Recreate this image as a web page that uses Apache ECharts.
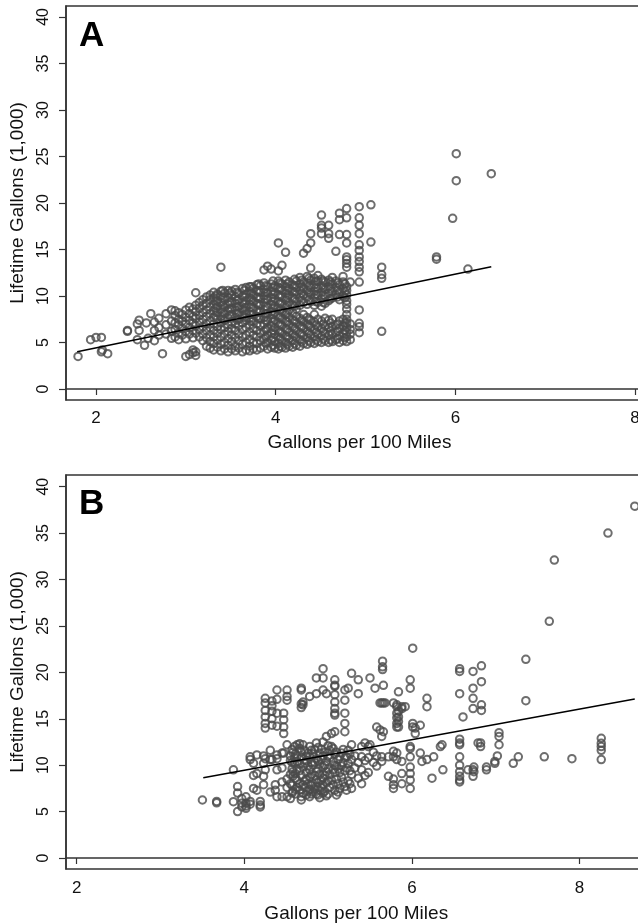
<!DOCTYPE html>
<html>
<head>
<meta charset="utf-8">
<script src="https://cdn.jsdelivr.net/npm/echarts@6/dist/echarts.min.js"></script>
<style>
  html, body { margin: 0; padding: 0; background: #fff; }
  #main { width: 638px; height: 923px; }
</style>
</head>
<body>
<div id="main"></div>
<script>
// Panel A: gallons per 100 miles (x) -> lifetime gallons (1,000) read column by column
const colsA = [
  [1.80, [3.5]],
  [1.94, [5.3]], [2.00, [5.55]], [2.06, [5.55, 4.0]], [2.07, [4.2]], [2.13, [3.8]],
  [2.35, [6.2, 6.3]],
  [2.46, [5.3, 7.0]], [2.48, [7.4, 6.3]], [2.54, [4.7]], [2.56, [7.1]], [2.58, [5.45]],
  [2.61, [8.1]], [2.65, [7.2, 6.3, 5.2]],
  [2.70, [5.8, 6.6, 7.6]], [2.74, [3.8]], [2.78, [8.1, 6.9, 5.9]], [2.84, [8.5, 6.2, 5.45, 7.3]],
  [2.88, [5.6, 6.4, 7.1, 7.9, 8.4]],
  [2.92, [5.3, 6.0, 6.9, 7.5, 8.2]],
  [2.96, [5.8, 6.5, 7.3, 8.0]],
  [3.00, [3.5, 5.4, 6.2, 7.0, 7.7, 8.5]],
  [3.04, [3.7, 5.9, 6.6, 7.4, 8.1, 8.8]],
  [3.08, [3.9, 4.2, 5.5, 6.3, 7.1, 7.8, 8.6]],
  [3.11, [3.6, 4.0, 6.0, 6.8, 7.6, 8.3, 9.0, 10.35]],
  [3.15, [5.6, 6.4, 7.2, 7.9, 8.7, 9.3]],
  [3.19, [5.2, 5.9, 6.7, 7.5, 8.2, 9.0, 9.6]],
  [3.23, [4.6, 5.5, 6.3, 7.0, 7.8, 8.5, 9.2, 9.9]],
  [3.27, [4.4, 5.1, 5.8, 6.6, 7.3, 8.1, 8.8, 9.6, 10.1]],
  [3.31, [4.2, 4.9, 5.6, 6.3, 7.0, 7.7, 8.4, 9.1, 9.8, 10.4]],
  [3.33, [7.9, 8.7, 9.4, 10.0]],
  [3.35, [4.5, 5.3, 6.0, 6.7, 7.5, 8.2, 8.9, 9.5, 10.2]],
  [3.39, [4.1, 4.8, 5.6, 6.4, 7.1, 7.8, 8.6, 9.3, 10.0, 10.5, 13.1]],
  [3.41, [7.5, 8.3, 9.0, 9.8, 10.6]],
  [3.43, [4.3, 5.0, 5.9, 6.6, 7.4, 8.1, 8.8, 9.6, 10.3]],
  [3.47, [4.0, 4.7, 5.4, 6.2, 6.9, 7.6, 8.4, 9.1, 9.8, 10.6]],
  [3.49, [7.9, 8.6, 9.3, 10.3]],
  [3.51, [4.3, 5.1, 5.8, 6.5, 7.2, 8.0, 8.7, 9.4, 10.1, 10.5]],
  [3.55, [4.1, 4.6, 5.5, 6.3, 7.0, 7.7, 8.5, 9.2, 9.9, 10.7]],
  [3.57, [7.4, 8.1, 8.8, 9.5, 10.4]],
  [3.59, [4.4, 5.2, 5.9, 6.8, 7.5, 8.2, 8.9, 9.6, 10.3]],
  [3.63, [4.0, 4.8, 5.6, 6.4, 7.1, 7.9, 8.6, 9.3, 10.0, 10.8]],
  [3.65, [7.7, 8.4, 9.1, 9.9, 10.6]],
  [3.67, [4.2, 5.0, 5.8, 6.6, 7.4, 8.1, 8.8, 9.5, 10.2, 10.9]],
  [3.71, [4.1, 4.6, 5.3, 6.1, 6.9, 7.6, 8.3, 9.1, 9.8, 10.5, 11.0]],
  [3.73, [7.3, 8.0, 8.8, 9.6, 10.3, 11.0]],
  [3.75, [4.3, 5.0, 5.8, 6.5, 7.3, 8.0, 8.7, 9.4, 10.1, 10.8]],
  [3.79, [4.2, 4.9, 5.6, 6.3, 7.0, 7.8, 8.5, 9.2, 9.9, 10.6, 11.2]],
  [3.81, [7.6, 8.3, 9.1, 9.8, 10.5, 11.3]],
  [3.83, [4.4, 5.2, 6.0, 6.8, 7.5, 8.3, 9.0, 9.7, 10.4, 11.1]],
  [3.87, [4.6, 5.4, 6.2, 7.0, 7.7, 8.5, 9.3, 10.0, 10.7, 11.4, 12.8]],
  [3.89, [4.9, 5.6, 6.4, 7.4, 8.1, 8.9, 9.7, 10.4, 11.1]],
  [3.91, [4.3, 5.0, 5.8, 6.5, 7.3, 8.1, 8.8, 9.6, 10.3, 11.0, 13.2]],
  [3.95, [4.5, 5.3, 6.0, 6.8, 7.6, 8.3, 9.1, 9.8, 10.5, 11.3, 12.9]],
  [3.97, [4.7, 5.5, 6.3, 7.2, 8.0, 8.7, 9.4, 10.2, 10.9, 11.6]],
  [3.99, [4.4, 5.1, 5.9, 6.6, 7.4, 8.2, 8.9, 9.7, 10.4, 11.1]],
  [4.03, [4.3, 4.9, 5.6, 6.3, 7.1, 7.9, 8.7, 9.4, 10.1, 10.9, 11.6, 12.7, 15.7]],
  [4.05, [4.6, 5.4, 6.1, 6.9, 7.7, 8.5, 9.2, 10.0, 10.8, 11.4]],
  [4.07, [4.5, 5.2, 6.0, 6.8, 7.5, 8.3, 9.1, 9.9, 10.6, 11.3, 13.3]],
  [4.11, [4.4, 5.0, 5.7, 6.5, 7.3, 8.0, 8.8, 9.6, 10.3, 11.0, 11.7, 14.7]],
  [4.13, [4.8, 5.6, 6.4, 7.2, 8.2, 9.0, 9.8, 10.6, 11.3]],
  [4.15, [4.6, 5.4, 6.1, 6.9, 7.7, 8.5, 9.3, 10.1, 10.8, 11.5]],
  [4.19, [4.5, 5.2, 5.9, 6.7, 7.4, 8.2, 9.0, 9.8, 10.5, 11.2]],
  [4.21, [4.9, 5.7, 6.5, 7.3, 8.9, 9.7, 10.4, 11.1, 11.8]],
  [4.23, [4.7, 5.5, 6.3, 7.1, 7.8, 8.6, 9.4, 10.2, 10.9, 11.6]],
  [4.27, [4.6, 5.3, 6.0, 6.8, 7.6, 9.0, 9.8, 10.6, 11.3, 12.0]],
  [4.29, [5.1, 5.9, 6.7, 7.4, 9.5, 10.3, 11.0, 11.7]],
  [4.31, [4.9, 5.7, 6.5, 7.2, 8.0, 9.3, 10.1, 10.8, 11.5, 14.6]],
  [4.35, [4.8, 5.5, 6.2, 7.0, 7.7, 9.1, 9.9, 10.6, 11.4, 12.1, 15.1]],
  [4.37, [5.2, 6.0, 6.8, 7.5, 9.6, 10.4, 11.1, 11.9]],
  [4.39, [5.0, 5.8, 6.6, 7.4, 9.4, 10.2, 10.9, 11.7, 13.0, 15.7, 16.7]],
  [4.43, [4.9, 5.6, 6.4, 7.2, 8.0, 9.0, 9.8, 10.5, 11.2, 11.9]],
  [4.45, [5.3, 6.1, 6.9, 9.4, 10.2, 10.9, 11.6]],
  [4.47, [5.1, 5.9, 6.7, 7.5, 9.3, 10.1, 10.8, 11.6, 12.2]],
  [4.51, [5.0, 5.7, 6.5, 7.3, 8.9, 9.7, 10.4, 11.1, 11.8, 16.7, 17.3, 17.6, 18.7]],
  [4.53, [5.4, 6.2, 7.0, 9.3, 10.1, 10.9, 11.6]],
  [4.55, [5.2, 6.0, 6.8, 7.6, 9.2, 10.0, 10.7, 11.5]],
  [4.59, [5.0, 5.8, 6.6, 7.4, 9.5, 10.3, 11.0, 11.7, 16.2, 16.7, 17.6]],
  [4.61, [5.3, 6.2, 7.1, 9.7, 10.8, 11.5]],
  [4.63, [5.1, 5.9, 6.7, 7.5, 9.8, 10.5, 11.3, 12.0]],
  [4.67, [5.3, 6.1, 6.9, 10.1, 10.9, 11.6, 14.8]],
  [4.69, [5.4, 6.2, 7.0, 9.9, 10.6, 11.4]],
  [4.71, [5.0, 5.7, 6.5, 7.3, 9.6, 10.4, 11.2, 16.6, 18.2, 18.9]],
  [4.75, [5.2, 6.0, 6.8, 7.5, 10.0, 10.8, 11.5, 12.1]],
  [4.77, [5.5, 6.3, 7.1, 9.8, 10.5, 11.3]],
  [4.79, [5.1, 5.6, 6.1, 6.6, 7.1, 7.5, 8.0, 8.6, 9.1, 9.5, 10.1, 10.6, 11.0, 13.1, 13.5, 13.9, 14.2, 15.7, 16.6, 18.4, 19.4]],
  [4.83, [5.3, 5.9, 6.4, 7.0, 11.5]],
  [4.93, [6.05, 6.7, 7.06, 8.5, 11.5, 12.6, 13.1, 13.7, 14.2, 14.9, 15.5, 16.7, 17.6, 18.4, 19.6]],
  [5.06, [15.8, 19.8]],
  [5.18, [6.2, 11.9, 12.3, 13.1]],
  [5.79, [13.95, 14.2]],
  [5.97, [18.35]],
  [6.01, [22.4, 25.3]],
  [6.14, [12.9]],
  [6.40, [23.15]]
];
const fitA = [[1.79, 4.0], [6.40, 13.15]];

// Panel B
const colsB = [
  [3.50, [6.25]],
  [3.67, [6.1, 5.95]],
  [3.87, [6.07, 9.5]],
  [3.92, [7.7, 5.0, 7.0]],
  [3.97, [5.5, 5.9, 6.4]],
  [4.02, [5.9, 6.6, 5.35, 5.6]],
  [4.07, [6.1, 10.9, 10.6, 5.8]],
  [4.11, [8.9, 10.2, 7.5]],
  [4.15, [9.1, 11.1, 7.3]],
  [4.19, [5.7, 5.5, 6.1]],
  [4.23, [7.9, 8.8, 10.2, 11.0]],
  [4.25, [14.0, 14.5, 15.2, 15.9, 16.7, 17.2, 10.7, 9.5]],
  [4.31, [10.6, 11.6, 7.1]],
  [4.33, [14.3, 15.0, 15.8, 16.4, 16.9, 10.6]],
  [4.37, [7.9, 7.3]],
  [4.39, [18.1, 17.1, 15.6, 14.2, 6.6, 11.1, 10.7, 9.5]],
  [4.45, [8.2, 6.6, 11.3, 9.7]],
  [4.47, [15.6, 14.9, 14.1, 13.4, 11.3]],
  [4.51, [6.6, 18.1, 17.4, 17.0, 12.2, 8.5, 7.6]],
  [4.55, [6.4, 8.0, 9.0, 10.5, 11.0]],
  [4.57, [7.0, 7.8, 9.6, 10.3, 11.7]],
  [4.58, [9.3, 8.8, 7.2, 11.4]],
  [4.60, [12.0, 10.8, 10.2]],
  [4.61, [6.9, 7.4, 8.6, 9.1, 11.2]],
  [4.63, [12.2, 11.0, 10.4, 9.6, 8.4, 7.6]],
  [4.66, [7.3, 8.0, 9.4, 10.1, 11.8, 12.3]],
  [4.68, [18.3, 18.1, 16.6, 16.2, 6.6, 6.25, 8.9, 10.8, 11.4]],
  [4.70, [12.2, 16.8, 16.5, 9.8, 7.9, 7.0]],
  [4.72, [7.6, 8.3, 10.2, 11.6]],
  [4.74, [11.0, 10.5, 9.2, 8.5, 6.8]],
  [4.76, [7.2, 8.0, 9.9, 11.3]],
  [4.78, [17.4, 12.0, 10.9, 9.5, 8.7, 7.4, 6.6]],
  [4.80, [6.9, 7.8, 9.0, 10.3, 11.6]],
  [4.82, [11.2, 10.0, 8.0, 7.1]],
  [4.84, [7.4, 8.9, 10.3, 11.7]],
  [4.86, [19.4, 17.7, 12.4, 10.7, 9.3, 8.4, 7.7, 6.9]],
  [4.88, [6.8, 8.1, 9.6, 10.5, 11.9]],
  [4.90, [11.3, 10.1, 9.0, 7.3, 6.5]],
  [4.92, [7.6, 8.4, 10.6, 11.7]],
  [4.94, [20.4, 19.4, 18.1, 12.5, 11.0, 9.8, 8.6, 7.9, 7.0]],
  [4.96, [7.2, 8.9, 10.0, 11.4]],
  [4.98, [17.7, 13.1, 10.4, 9.3, 8.1, 6.7]],
  [5.00, [6.9, 8.3, 9.6, 11.0, 12.1]],
  [5.02, [11.6, 10.8, 9.0, 7.6]],
  [5.04, [13.4, 12.0, 8.4]],
  [5.06, [7.9, 9.5, 10.4, 11.8]],
  [5.08, [19.2, 18.6, 18.5, 17.6, 16.8, 16.1, 15.6, 15.4, 13.6, 11.2, 10.0, 9.2, 7.3]],
  [5.10, [6.8, 8.5, 9.9, 11.4]],
  [5.12, [10.6, 9.6, 8.0, 7.1]],
  [5.14, [7.5, 9.2, 10.9]],
  [5.16, [11.3, 9.9, 8.7]],
  [5.18, [8.2, 10.3, 11.7]],
  [5.20, [18.1, 17.0, 15.6, 14.5, 13.6, 10.8, 9.4, 7.7]],
  [5.22, [7.3, 9.7, 10.9]],
  [5.24, [18.3, 11.6, 10.2, 8.3]],
  [5.26, [8.0, 9.4, 11.2]],
  [5.28, [19.9, 12.2, 10.6, 9.0, 7.5]],
  [5.32, [11.0, 9.7]],
  [5.36, [19.2, 17.7, 10.3, 8.6]],
  [5.40, [12.0, 10.9, 9.5, 8.0]],
  [5.44, [12.4, 10.5, 8.9]],
  [5.48, [12.0, 10.8, 9.2]],
  [5.50, [19.4, 12.2]],
  [5.54, [11.4, 10.3]],
  [5.56, [18.3]],
  [5.58, [14.1, 11.0, 9.9]],
  [5.62, [16.7, 13.8]],
  [5.64, [16.7, 13.1, 10.9, 10.4]],
  [5.65, [21.2, 20.6, 20.3]],
  [5.66, [18.6, 13.6, 16.7]],
  [5.68, [16.7]],
  [5.72, [10.9, 8.8]],
  [5.78, [16.7, 11.5, 10.9, 8.5, 7.9, 7.5]],
  [5.82, [16.5, 16.3, 15.6, 15.1, 14.5, 14.1, 11.3, 10.6]],
  [5.84, [17.9, 15.8, 15.2, 14.7, 14.1]],
  [5.88, [16.3, 16.1, 10.4, 9.1, 8.0]],
  [5.92, [16.3]],
  [5.98, [18.3, 19.2, 12.0, 11.8, 10.9, 9.8, 9.1, 8.4, 7.5]],
  [6.01, [22.6, 14.5, 14.1]],
  [6.04, [13.4, 14.0]],
  [6.10, [11.3, 14.3]],
  [6.12, [10.4]],
  [6.18, [17.2, 16.3, 10.6]],
  [6.24, [8.6]],
  [6.26, [10.9]],
  [6.34, [12.0]],
  [6.36, [12.2]],
  [6.37, [9.5]],
  [6.57, [20.4, 20.1, 17.7, 12.8, 12.4, 12.2, 10.9, 10.0, 9.3, 8.8, 8.4, 8.2]],
  [6.61, [15.2]],
  [6.67, [9.5]],
  [6.73, [20.1, 18.3, 17.2, 16.1, 9.5, 8.8]],
  [6.74, [9.8, 9.3]],
  [6.79, [12.4]],
  [6.82, [12.4, 12.0]],
  [6.83, [20.7, 19.0, 16.5, 15.9]],
  [6.89, [9.8, 9.5]],
  [6.99, [10.2, 10.4]],
  [7.02, [11.0]],
  [7.04, [13.5, 13.1, 12.2]],
  [7.21, [10.2]],
  [7.27, [10.9]],
  [7.36, [21.4, 16.95]],
  [7.58, [10.9]],
  [7.64, [25.5]],
  [7.70, [32.1]],
  [7.91, [10.7]],
  [8.26, [12.9, 12.35, 12.0, 11.6, 10.6]],
  [8.34, [35.0]],
  [8.66, [37.9]]
];
const fitB = [[3.51, 8.65], [8.66, 17.13]];

const xTicks = [2, 4, 6, 8];
const yTicks = [0, 5, 10, 15, 20, 25, 30, 35, 40];

const flatten = (cols) => {
  const out = [];
  cols.forEach(([x, ys]) => ys.forEach(y => out.push([x, y])));
  return out;
};

const FONT = 'Liberation Sans, Arial, sans-serif';
const AXIS_COLOR = '#333';

const xAxisOf = (gridIndex, min, max, margin, gap) => ({
  type: 'value', gridIndex, min, max,
  name: 'Gallons per 100 Miles', nameLocation: 'middle', nameGap: gap,
  nameTextStyle: { fontFamily: FONT, fontSize: 19, color: '#111' },
  axisLine: { show: true, lineStyle: { color: AXIS_COLOR, width: 1.5 } },
  axisTick: { show: true, length: 6, customValues: xTicks, lineStyle: { color: AXIS_COLOR, width: 1.2 } },
  axisLabel: { customValues: xTicks, margin, fontFamily: FONT, fontSize: 17, color: '#111' },
  splitLine: { show: false }
});

const yAxisOf = (gridIndex, min, max) => ({
  type: 'value', gridIndex, min, max,
  name: 'Lifetime Gallons (1,000)', nameLocation: 'middle', nameGap: 39, nameRotate: 90,
  nameTextStyle: { fontFamily: FONT, fontSize: 19, color: '#111' },
  axisLine: { show: true, lineStyle: { color: AXIS_COLOR, width: 1.5 } },
  axisTick: { show: true, length: 7, customValues: yTicks, lineStyle: { color: AXIS_COLOR, width: 1.2 } },
  axisLabel: { customValues: yTicks, rotate: 90, margin: 14, fontFamily: FONT, fontSize: 16, color: '#111' },
  splitLine: { show: false }
});

const scatterOf = (idx, cols) => ({
  type: 'scatter', xAxisIndex: idx, yAxisIndex: idx,
  data: flatten(cols),
  symbol: 'circle', symbolSize: 7.5,
  itemStyle: { color: 'rgba(0,0,0,0)', borderColor: '#4a4a4a', borderWidth: 2 },
  large: false, progressive: 0, z: 2
});

const fitOf = (idx, pts) => ({
  type: 'line', xAxisIndex: idx, yAxisIndex: idx,
  data: pts, symbol: 'none',
  lineStyle: { color: '#000', width: 1.6 }, z: 3
});

const chart = echarts.init(document.getElementById('main'), null, { renderer: 'canvas' });
chart.setOption({
  animation: false,
  backgroundColor: '#fff',
  title: [
    { text: 'A', left: 74, top: 14, textStyle: { fontFamily: FONT, fontSize: 35, fontWeight: 'bold', color: '#000' } },
    { text: 'B', left: 74, top: 482, textStyle: { fontFamily: FONT, fontSize: 35, fontWeight: 'bold', color: '#000' } }
  ],
  grid: [
    { left: 66, top: 6, width: 587, height: 394, show: true, borderColor: AXIS_COLOR, borderWidth: 1.5, outerBoundsMode: 'none' },
    { left: 66, top: 475, width: 580.5, height: 394, show: true, borderColor: AXIS_COLOR, borderWidth: 1.5, outerBoundsMode: 'none' }
  ],
  xAxis: [
    xAxisOf(0, 1.666, 8.2, 10, 33),
    xAxisOf(1, 1.872, 8.8, 11, 35)
  ],
  yAxis: [
    yAxisOf(0, -1.183, 41.18),
    yAxisOf(1, -1.185, 41.26)
  ],
  series: [
    scatterOf(0, colsA),
    fitOf(0, fitA),
    scatterOf(1, colsB),
    fitOf(1, fitB)
  ]
});
</script>
</body>
</html>
